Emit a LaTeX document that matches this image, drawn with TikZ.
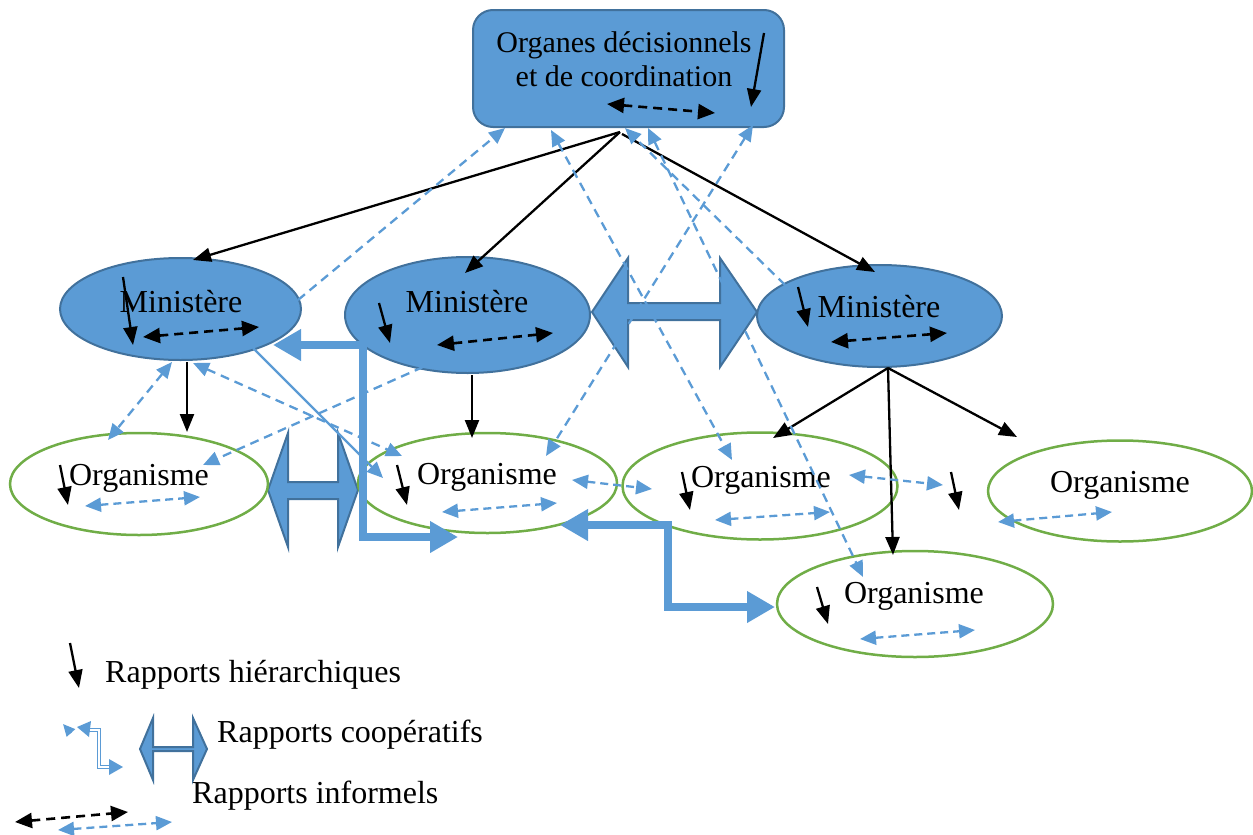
\documentclass[tikz,border=0pt]{standalone}
\usepackage{fontspec}
\setmainfont{Liberation Serif}
\usetikzlibrary{shapes.geometric,arrows.meta,calc}
\definecolor{fillblue}{HTML}{5B9BD5}
\definecolor{edgeblue}{HTML}{41719C}
\definecolor{orggreen}{HTML}{70AD47}
\begin{document}
\begin{tikzpicture}[x=1pt,y=-1pt,
  tiph/.tip={Triangle[length=18pt,width=14pt]},
  tipk/.tip={Triangle[length=17pt,width=15pt]},
  tipb/.tip={Triangle[length=16pt,width=14pt]},
  tipc/.tip={Triangle[length=28pt,width=30pt]},
  tips/.tip={Triangle[length=12pt,width=11pt]},
  boardbox/.style={rectangle, rounded corners=20pt, fill=fillblue, draw=edgeblue,
    line width=2pt, minimum width=311pt, minimum height=117pt},
  ministry/.style={ellipse, fill=fillblue, draw=edgeblue, line width=2pt, inner sep=0pt},
  organism/.style={ellipse, draw=orggreen, line width=2.5pt, inner sep=0pt},
  nodetext/.style={font=\fontsize{32}{35}\selectfont, inner sep=0pt, anchor=base},
  hier/.style={line width=2.3pt, -tiph},
  infblack/.style={line width=2.6pt, dash pattern=on 9pt off 6pt, tipk-tipk},
  infblue/.style={draw=fillblue, line width=2.3pt, dash pattern=on 8pt off 5pt, tipb-tipb},
  coopdash/.style={draw=fillblue, line width=2.3pt, dash pattern=on 9pt off 6pt},
  coopline/.style={draw=fillblue, line width=2.2pt},
  coopbig/.style={draw=fillblue, line width=8pt, line join=miter, tipc-tipc},
  blockarrow/.style={fill=fillblue, draw=edgeblue, line width=2pt, line join=miter},
  legcoop/.style={draw=fillblue, line width=1pt, double=white, double distance=2pt}
]
\useasboundingbox (0,0) rectangle (1253,835);

% wide two-headed arrows between ministries and between organisms
\draw[blockarrow] (592,312) -- (628,258) -- (628,303) -- (720,303) -- (720,258)
  -- (757,312) -- (720,367) -- (720,320) -- (628,320) -- (628,367) -- cycle;
\draw[blockarrow] (268,490) -- (288,433) -- (288,482) -- (338,482) -- (338,433)
  -- (358,490) -- (338,547) -- (338,499) -- (288,499) -- (288,547) -- cycle;

% decision board
\node[boardbox] (board) at (628.5,68.5) {};
\node[font=\fontsize{30}{34}\selectfont, align=center, inner sep=0pt] (boardtext)
  at (624,59) {Organes décisionnels\\ et de coordination};

% ministries
\node[ministry, minimum width=241pt, minimum height=102pt] (m1) at (180.5,309) {};
\node[ministry, minimum width=245pt, minimum height=116pt] (m2) at (467.5,315) {};
\node[ministry, minimum width=245pt, minimum height=102pt] (m3) at (879.5,316) {};
\node[nodetext] (m1t) at (181,312) {Ministère};
\node[nodetext] (m2t) at (467,312) {Ministère};
\node[nodetext] (m3t) at (879,317) {Ministère};

% organisms
\node[organism, minimum width=258pt, minimum height=102pt] (o1) at (139,484) {};
\node[organism, minimum width=259pt, minimum height=100pt] (o2) at (487.5,483) {};
\node[organism, minimum width=275pt, minimum height=107pt] (o3) at (760,486) {};
\node[organism, minimum width=264pt, minimum height=101pt] (o4) at (1120,491) {};
\node[organism, minimum width=276pt, minimum height=106pt] (o5) at (915,604) {};
\node[nodetext] (o1t) at (139,485) {Organisme};
\node[nodetext] (o2t) at (487,484) {Organisme};
\node[nodetext] (o3t) at (761,487) {Organisme};
\node[nodetext] (o4t) at (1120,492) {Organisme};
\node[nodetext] (o5t) at (914,603) {Organisme};

% thick cooperative elbows
\coordinate (c1bend) at (363,345);
\coordinate (c2bend) at (668,525);
\draw[coopbig] ($(m1)+(92.5,36)$) -- (c1bend) |- ($(o2)+(-29.5,54)$);
\draw[coopbig] ($(o2)+(72.5,42)$) -- (c2bend) |- ($(o5)+(-140,3)$);

% hierarchical links
\coordinate (hub) at ($(board.south)+(-8.5,4)$);
\coordinate (m3foot) at ($(m3)+(8.5,52)$);
\draw[hier] (hub) -- ($(m1)+(12.5,-49)$);
\draw[hier] (hub) -- ($(m2)+(-2.5,-42)$);
\draw[hier] ($(hub)+(2,2)$) -- ($(m3)+(-4.5,-44)$);
\draw[hier] ($(m1)+(6.5,53)$) -- ($(o1)+(48,-52)$);
\draw[hier] ($(m2)+(4.5,60)$) -- ($(o2)+(-15.5,-45)$);
\draw[hier] (m3foot) -- ($(o3)+(13,-48)$);
\draw[hier] (m3foot) -- ($(o5)+(-22,-49)$);
\draw[hier] (m3foot) -- ($(o4)+(-103,-54)$);

% dashed cooperative links
\draw[coopdash, -tipb] ($(m1)+(117.5,-9)$) -- ($(board)+(-123.5,59.5)$);
\draw[coopdash, tipb-tipb] ($(board)+(-77.5,61.5)$) -- ($(o3)+(-28,-26)$);
\draw[coopdash, tipb-tipb] ($(board)+(124.5,56.5)$) -- ($(o2)+(58.5,-27)$);
\draw[coopdash, -tipb] ($(m3)+(-94.5,-31)$) -- ($(board)+(-3.5,59.5)$);
\draw[coopdash, tipb-tipb] ($(board)+(19.5,59.5)$) -- ($(o5)+(-52,-27)$);
\draw[coopdash, tipb-tipb] ($(m1)+(-8.5,53)$) -- ($(o1)+(-31,-44)$);
\draw[coopdash, tipb-tipb] ($(m1)+(12.5,54)$) -- ($(o2)+(-85.5,-27)$);
\draw[coopdash, -tipb] ($(m2)+(-44.5,52)$) -- ($(o1)+(64,-19)$);
\draw[coopline, -tipb] ($(m1)+(72.5,39)$) -- ($(o2)+(-104.5,-5)$);
\draw[infblue] ($(o2)+(84.5,-3)$) -- ($(o3)+(-108,3)$);
\draw[infblue] ($(o3)+(89,-11)$) -- ($(o4)+(-177,-6)$);

% hierarchy marks inside the units
\draw[hier] (764,33) -- (751,107);
\draw[hier] (123,277) -- (133,345);
\draw[hier] (379,303) -- (390,343);
\draw[hier] (798,287) -- (808,327);
\draw[hier] (60,465) -- (68,505);
\draw[hier] (397,465) -- (407,505);
\draw[hier] (682,472) -- (690,510);
\draw[hier] (951,472) -- (959,510);
\draw[hier] (817,587) -- (828,624);

% informal marks inside the units
\draw[infblack] (607,104) -- (715,113);
\draw[infblack] (143,337) -- (259,327);
\draw[infblack] (437,345) -- (553,333);
\draw[infblack] (831,342) -- (947,333);
\draw[infblue] (85,506) -- (200,497);
\draw[infblue] (442,512) -- (557,503);
\draw[infblue] (715,520) -- (830,512);
\draw[infblue] (998,522) -- (1112,512);
\draw[infblue] (860,639) -- (975,630);

% legend
\draw[hier] (70,643) -- (79,688);
\node[nodetext, anchor=base west] (leghier) at (105,682) {Rapports hiérarchiques};
\draw[coopline, -tips] (71,733) -- (63,724);
\draw[legcoop] (86,730) -- (99,730) -- (99,767) -- (111,767);
\fill[fillblue] (77,727) -- (91,721) -- (89,737) -- cycle;
\fill[fillblue] (123,767) -- (109,759) -- (109,775) -- cycle;
\draw[blockarrow] (140,749) -- (153,718) -- (153,747) -- (193,747) -- (193,718)
  -- (207,749) -- (193,780) -- (193,751) -- (153,751) -- (153,780) -- cycle;
\node[nodetext, anchor=base west] (legcoopt) at (217,742) {Rapports coopératifs};
\node[nodetext, anchor=base west] (leginf) at (192,803) {Rapports informels};
\draw[infblack] (15,822) -- (128,812);
\draw[infblue] (58,830) -- (172,822);
\end{tikzpicture}
\end{document}
